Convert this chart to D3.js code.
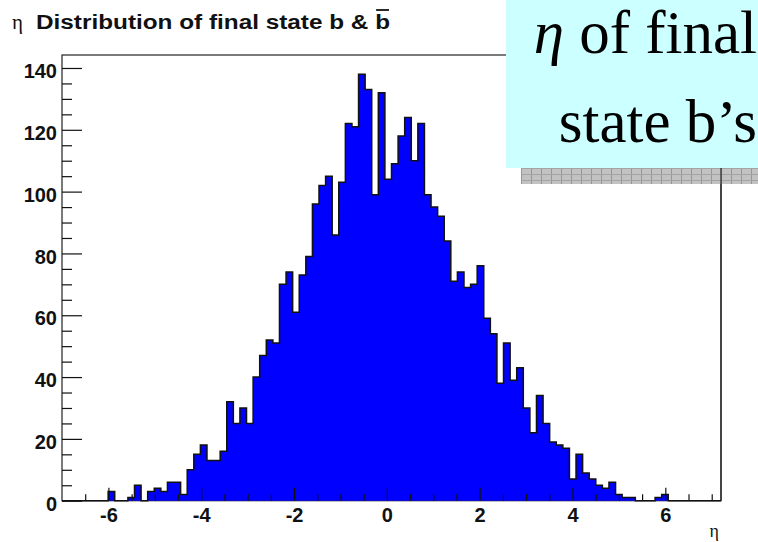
<!DOCTYPE html>
<html><head><meta charset="utf-8">
<script src="https://cdn.jsdelivr.net/npm/d3@7"></script>
<style>html,body{margin:0;padding:0;background:#fff;overflow:hidden}</style>
</head><body>
<svg id="c" width="758" height="542"></svg>
<script>
// ---- data ----
const etaRange = [-7, 7.2];
const counts = [
  0,0,0,0,0,0,0,3,0,0,
  1,5,0,3,4,3,6,6,2,10,
  15,18,13,13,16,32,25,30,25,40,
  47,52,51,70,74,61,73,79,96,102,
  105,86,103,122,121,138,133,99,132,104,
  109,118,124,110,122,99,95,92,84,71,
  74,69,70,76,59,54,38,51,39,43,
  30,22,34,25,19,18,17,7,15,9,
  7,5,4,6,2,1,1,0,0,0,
  1,2,0,0,0,0,0,0,0,0
];
const yMax = 144.2;
const xMajorTicks = [-6, -4, -2, 0, 2, 4, 6];
const xMinorTicks = [-6.5,-5.5,-5,-4.5,-3.5,-3,-2.5,-1.5,-1,-0.5,0.5,1,1.5,2.5,3,3.5,4.5,5,5.5,6.5,7];
const yMajorTicks = [0, 20, 40, 60, 80, 100, 120, 140];
const yMinorTicks = [5,10,15,25,30,35,45,50,55,65,70,75,85,90,95,105,110,115,125,130,135];
const titleSymbol = "η";
const titleText = "Distribution of final state b & b";
const xAxisTitle = "η";
const boxLine1Sym = "η";
const boxLine1 = " of final";
const boxLine2 = "state b’s";

// ---- drawing ----
const svg = d3.select('#c');
const L = 62, R = 721, T = 55, B = 500.7;
const x = d3.scaleLinear().domain(etaRange).range([L, R]);
const y = d3.scaleLinear().domain([0, yMax]).range([B, T]);

// frame
svg.append('rect').attr('x', L).attr('y', T).attr('width', R - L).attr('height', B - T)
  .attr('fill', '#fff').attr('stroke', '#222').attr('stroke-width', 1.2);

// histogram
const binW = (etaRange[1] - etaRange[0]) / counts.length;
const pts = [[etaRange[0], 0]];
counts.forEach((c, i) => { const lo = etaRange[0] + i * binW; pts.push([lo, c], [lo + binW, c]); });
pts.push([etaRange[1], 0]);
svg.append('path').datum(pts)
  .attr('d', d3.area().x(d => x(d[0])).y0(y(0)).y1(d => y(d[1])))
  .attr('fill', '#0000ff');
svg.append('path').datum(pts)
  .attr('d', d3.line().x(d => x(d[0])).y(d => y(d[1])))
  .attr('fill', 'none').attr('stroke', '#111').attr('stroke-width', 1.5);

function styleAxis(g) {
  g.select('.domain').remove();
  g.attr('color', '#111');
  g.selectAll('line').attr('stroke-width', 1.2);
  g.selectAll('text').attr('font-family', '"Liberation Sans", Arial, sans-serif')
    .attr('font-weight', 'bold').attr('font-size', 20).attr('fill', '#111');
}
// x axis
svg.append('g').attr('transform', `translate(0,${B})`)
  .call(d3.axisBottom(x).tickValues(xMinorTicks).tickSize(-6.5).tickFormat(''))
  .call(styleAxis);
svg.append('g').attr('transform', `translate(0,${B})`)
  .call(d3.axisBottom(x).tickValues(xMajorTicks).tickSize(-13).tickPadding(7.4).tickFormat(d => String(d)))
  .call(styleAxis);
// y axis
svg.append('g').attr('transform', `translate(${L},0)`)
  .call(d3.axisLeft(y).tickValues(yMinorTicks).tickSize(-10).tickFormat(''))
  .call(styleAxis);
const ya = svg.append('g').attr('transform', `translate(${L},0)`)
  .call(d3.axisLeft(y).tickValues(yMajorTicks).tickSize(-20).tickPadding(5).tickFormat(d => String(d)))
  .call(styleAxis);
ya.selectAll('text').attr('dy', '0.48em');

// x axis title
svg.append('text').attr('x', 719).attr('y', 537).attr('text-anchor', 'end')
  .attr('font-family', '"Liberation Serif", serif').attr('font-size', 18).attr('fill', '#111')
  .text(xAxisTitle);

// title
svg.append('text').attr('x', 12).attr('y', 29)
  .attr('font-family', '"Liberation Serif", serif').attr('font-size', 21).attr('fill', '#111')
  .text(titleSymbol);
const tt = svg.append('text').attr('x', 36).attr('y', 29.3)
  .attr('font-family', '"Liberation Sans", Arial, sans-serif').attr('font-weight', 'bold')
  .attr('font-size', 20).attr('fill', '#111')
  .attr('textLength', 354).attr('lengthAdjust', 'spacingAndGlyphs')
  .text(titleText);
try {
  const n = titleText.length - 1;
  const ext = tt.node().getExtentOfChar(n);
  svg.append('line').attr('x1', ext.x + 1).attr('x2', ext.x + ext.width - 1)
    .attr('y1', 10).attr('y2', 10).attr('stroke', '#111').attr('stroke-width', 1.8);
} catch (e) {}

// callout box with shadow
const defs = svg.append('defs');
const pat = defs.append('pattern').attr('id', 'shade').attr('patternUnits', 'userSpaceOnUse')
  .attr('x', 521).attr('y', 168).attr('width', 10).attr('height', 6);
pat.append('rect').attr('width', 10).attr('height', 6).attr('fill', '#c2c2c2');
pat.append('rect').attr('width', 1).attr('height', 6).attr('fill', '#969696');
pat.append('rect').attr('width', 10).attr('height', 1).attr('fill', '#a4a4a4');
svg.append('rect').attr('x', 521).attr('y', 168).attr('width', 237).attr('height', 16)
  .attr('fill', 'url(#shade)');
svg.append('line').attr('x1', R).attr('x2', R).attr('y1', 168).attr('y2', B)
  .attr('stroke', '#222').attr('stroke-width', 1.2);
svg.append('rect').attr('x', 506).attr('y', -1).attr('width', 253).attr('height', 169)
  .attr('fill', '#ccffff');
const l1 = svg.append('text').attr('x', 757).attr('y', 53).attr('text-anchor', 'end')
  .attr('font-family', '"Liberation Serif", "Times New Roman", serif').attr('font-size', 61).attr('fill', '#000');
l1.append('tspan').attr('font-style', 'italic').text(boxLine1Sym);
l1.append('tspan').text(boxLine1);
svg.append('text').attr('x', 757).attr('y', 142).attr('text-anchor', 'end')
  .attr('font-family', '"Liberation Serif", "Times New Roman", serif').attr('font-size', 61).attr('fill', '#000')
  .text(boxLine2);
</script>
</body></html>
